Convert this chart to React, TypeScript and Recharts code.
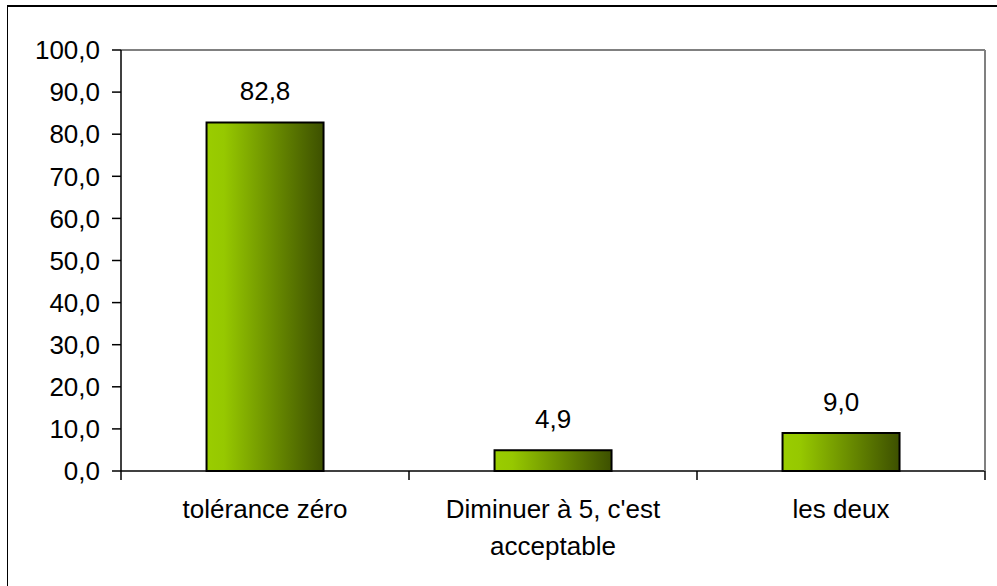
import React from 'react';
import { BarChart, Bar, XAxis, YAxis, LabelList } from 'recharts';

const categories: string[] = ["tolérance zéro", "Diminuer à 5, c'est acceptable", "les deux"];
const values: number[] = [82.8, 4.9, 9.0];
const yTicks: number[] = [0, 10, 20, 30, 40, 50, 60, 70, 80, 90, 100];

const data = categories.map((name, i) => ({ name, value: values[i] }));

const FONT = "Arial, 'Liberation Sans', sans-serif";
const FS = 26;
const fmt = (v: any) => Number(v).toFixed(1).replace('.', ',');

function wrap(text: string, max: number): string[] {
  const words = text.split(' ');
  const lines: string[] = [];
  let cur = '';
  for (const w of words) {
    const next = cur ? cur + ' ' + w : w;
    if (next.length > max && cur) {
      lines.push(cur);
      cur = w;
    } else {
      cur = next;
    }
  }
  if (cur) lines.push(cur);
  return lines;
}

const CategoryTick = (props: any) => {
  const { x, y, payload, index, visibleTicksCount } = props;
  const half = payload && payload.offset ? payload.offset : 0;
  const lines = wrap(String(payload.value), 20);
  return (
    <g>
      <line x1={x - half} x2={x - half} y1={y} y2={y + 9} stroke="#000" strokeWidth={1.5} />
      {index === visibleTicksCount - 1 && (
        <line x1={x + half} x2={x + half} y1={y} y2={y + 9} stroke="#000" strokeWidth={1.5} />
      )}
      <text x={x} y={y} textAnchor="middle" fontFamily={FONT} fontSize={FS} fill="#000">
        {lines.map((l, i) => (
          <tspan key={i} x={x} dy={i === 0 ? 47 : 37}>{l}</tspan>
        ))}
      </text>
    </g>
  );
};

export default function App() {
  return (
    <div style={{ position: 'absolute', left: 0, top: 0, width: 997, height: 586, background: '#fff', overflow: 'hidden' }}>
      <div style={{ position: 'absolute', left: 7, top: 5, width: 1100, height: 700, borderLeft: '1px solid #000', borderTop: '2px solid #000' }} />
      <div style={{ position: 'absolute', left: 0, top: 0 }}>
        <BarChart
          width={997}
          height={586}
          data={data}
          margin={{ top: 0, right: 0, bottom: 0, left: 0 }}
          barCategoryGap="29.7%"
        >
          <defs>
            <linearGradient id="barGrad" x1="0" y1="0" x2="1" y2="0">
              <stop offset="0" stopColor="#9ACD00" />
              <stop offset="0.15" stopColor="#96C800" />
              <stop offset="1" stopColor="#3D5000" />
            </linearGradient>
          </defs>
          <XAxis
            xAxisId="top"
            orientation="top"
            dataKey="name"
            height={50}
            tick={false}
            tickLine={false}
            stroke="#808080"
            strokeWidth={2}
          />
          <XAxis
            xAxisId="cat"
            dataKey="name"
            height={115}
            tickLine={false}
            tickSize={0}
            tickMargin={0}
            stroke="#000"
            strokeWidth={1.5}
            tick={<CategoryTick />}
            interval={0}
          />
          <YAxis
            yAxisId="right"
            orientation="right"
            width={12}
            domain={[0, 100]}
            tick={false}
            tickLine={false}
            stroke="#808080"
            strokeWidth={2}
          />
          <YAxis
            yAxisId="left"
            width={121}
            domain={[0, 100]}
            ticks={yTicks}
            tickFormatter={fmt}
            tickSize={9}
            tickMargin={12}
            stroke="#000"
            strokeWidth={1.5}
            tick={{ fill: '#000', fontFamily: FONT, fontSize: FS, stroke: 'none' }}
            interval={0}
          />
          <Bar
            xAxisId="cat"
            yAxisId="left"
            dataKey="value"
            fill="url(#barGrad)"
            stroke="#000"
            strokeWidth={2}
            isAnimationActive={false}
          >
            <LabelList
              dataKey="value"
              position="top"
              offset={22}
              formatter={fmt}
              fill="#000"
              fontFamily={FONT}
              fontSize={FS}
            />
          </Bar>
        </BarChart>
      </div>
    </div>
  );
}
